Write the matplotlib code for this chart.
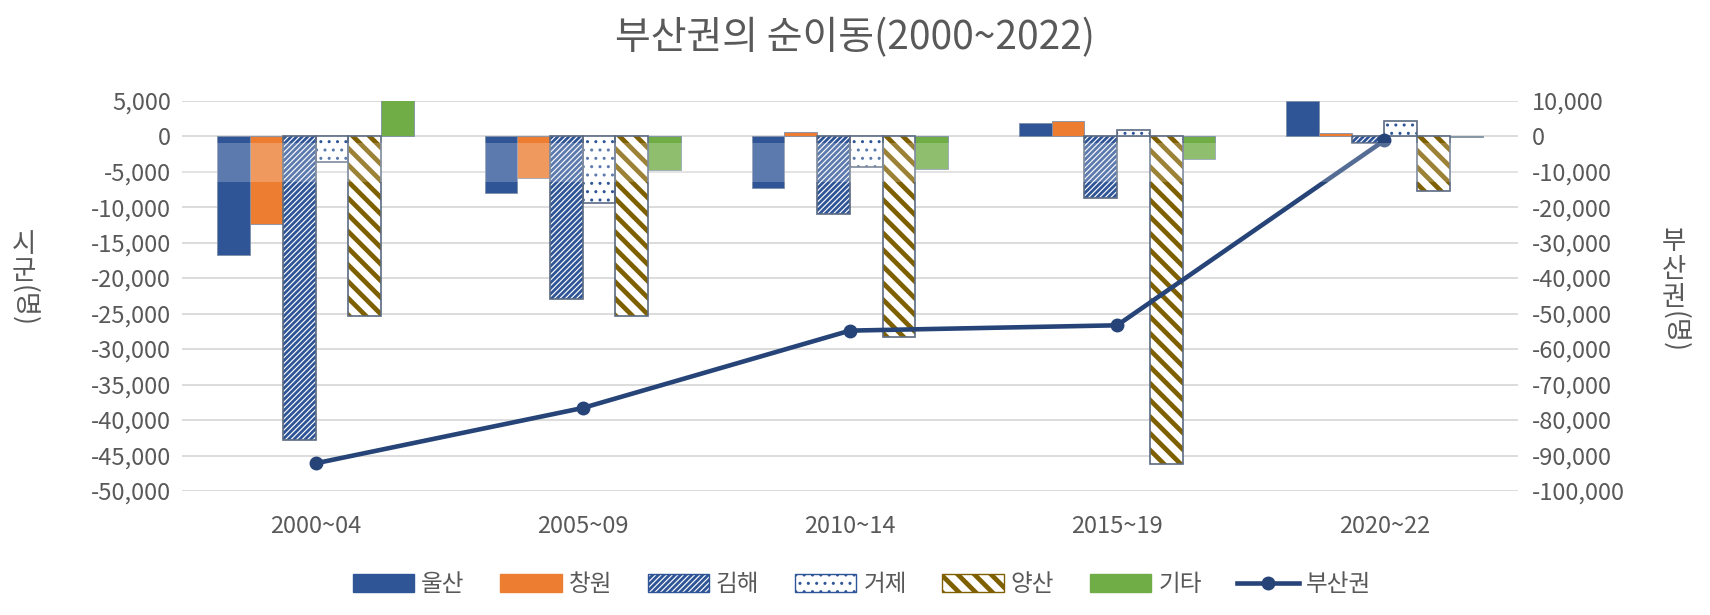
import matplotlib
matplotlib.use('Agg')
import matplotlib.pyplot as plt
from matplotlib.patches import Patch
from matplotlib.lines import Line2D
from matplotlib.ticker import FuncFormatter, MultipleLocator
import numpy as np

plt.rcParams['font.family'] = ['Noto Sans CJK KR', 'DejaVu Sans']

categories = ['2000~04', '2005~09', '2010~14', '2015~19', '2020~22']
series_names = ['울산', '창원', '김해', '거제', '양산', '기타']
ulsan = [-16800, -8000, -7300, 1900, 4900]
changwon = [-12400, -5900, 600, 2100, 500]
gimhae = [-42800, -23000, -11000, -8700, -900]
geoje = [-3700, -9400, -4300, 800, 2100]
yangsan = [-25400, -25300, -28300, -46200, -7700]
others = [5600, -4800, -4600, -3200, -100]
busan_name = '부산권'
busan = [-92200, -76600, -54800, -53300, -1200]

TXT = '#595959'
fig = plt.figure(figsize=(17.1, 6.15), dpi=100)
ax = fig.add_axes([0.1064, 0.2016, 0.7813, 0.6347])
ax2 = ax.twinx()

x = np.arange(len(categories))
w = 0.1225
offs = (np.arange(6) - 2.5) * w

styles = [
    dict(kind='solid', color='#2F5597'),
    dict(kind='solid', color='#ED7D31'),
    dict(kind='hatch', color='#2F5597', hatch='//////', hlw=2.0),
    dict(kind='hatch', color='#2F5597', hatch='..', hlw=1.0),
    dict(kind='hatch', color='#7F6000', hatch='\\\\', hlw=3.4),
    dict(kind='solid', color='#70AD47'),
]


def set_hlw(patch, lw):
    if hasattr(patch, 'set_hatch_linewidth'):
        patch.set_hatch_linewidth(lw)
    else:
        patch._hatch_linewidth = lw


data = [ulsan, changwon, gimhae, geoje, yangsan, others]
handles = []
for i, (vals, st) in enumerate(zip(data, styles)):
    if st['kind'] == 'solid':
        ax.bar(x + offs[i], vals, w, color=st['color'], edgecolor='#7F8FA9',
               linewidth=0.6, zorder=3)
        handles.append(Patch(facecolor=st['color'], edgecolor=st['color'],
                             label=series_names[i]))
    else:
        with plt.rc_context({'hatch.linewidth': st['hlw']}):
            bars = ax.bar(x + offs[i], vals, w, facecolor='white',
                          edgecolor=st['color'], hatch=st['hatch'],
                          linewidth=0, zorder=3)
            for b in bars:
                set_hlw(b, st['hlw'])
            ax.bar(x + offs[i], vals, w, facecolor='none', edgecolor='#5B6B82',
                   linewidth=1.2, zorder=4)
            hp = Patch(facecolor='white', edgecolor=st['color'],
                       hatch=st['hatch'], label=series_names[i])
            set_hlw(hp, st['hlw'])
            handles.append(hp)

ax2.plot(x, busan, color='#264478', lw=3.3, marker='o', ms=9, zorder=5)
handles.append(Line2D([0], [0], color='#264478', lw=3.3, marker='o', ms=9,
                      label=busan_name))
# translucent white band over the plot
ax2.axhspan(-12800, -1800, color='white', alpha=0.22, lw=0, zorder=10)

ax.set_xlim(-0.5, len(categories) - 0.5)
ax.set_ylim(-50000, 5000)
ax2.set_ylim(-100000, 10000)
ax.yaxis.set_major_locator(MultipleLocator(5000))
ax2.yaxis.set_major_locator(MultipleLocator(10000))
fmt = FuncFormatter(lambda v, p: f"{int(round(v)):,}")
ax.yaxis.set_major_formatter(fmt)
ax2.yaxis.set_major_formatter(fmt)
ax.set_xticks(x, categories)
ax.grid(axis='y', color='#D9D9D9', lw=1.3, zorder=0)
ax.set_axisbelow(True)
for a in (ax, ax2):
    for s in a.spines.values():
        s.set_visible(False)
    a.tick_params(length=0, labelsize=17, labelcolor=TXT)
ax.tick_params(axis='x', pad=17)
ax.tick_params(axis='y', pad=8)
ax2.tick_params(axis='y', pad=10)

fig.text(0.5, 0.938, '부산권의 순이동(2000~2022)', ha='center', va='center',
         fontsize=28, color=TXT)

# vertical axis titles (upright Hangul, rotated parentheses group)
fig.text(0.014, 0.537, '시\n군', ha='center', va='bottom', fontsize=19,
         color=TXT, linespacing=1.0)
fig.text(0.014, 0.537, '(명)', ha='center', va='top', fontsize=19,
         color=TXT, rotation=270)
fig.text(0.979, 0.494, '부\n산\n권', ha='center', va='bottom', fontsize=19,
         color=TXT, linespacing=1.05)
fig.text(0.979, 0.494, '(명)', ha='center', va='top', fontsize=19,
         color=TXT, rotation=270)

leg = fig.legend(handles=handles, loc='center', bbox_to_anchor=(0.504, 0.049),
                 ncol=7, frameon=False, fontsize=17, handlelength=2.6,
                 handleheight=0.75, handletextpad=0.3, columnspacing=1.5)
for t in leg.get_texts():
    t.set_color(TXT)
for lh, st in zip(leg.legend_handles, styles):
    if st['kind'] == 'hatch':
        set_hlw(lh, st['hlw'])

fig.savefig('out.png', dpi=100)
